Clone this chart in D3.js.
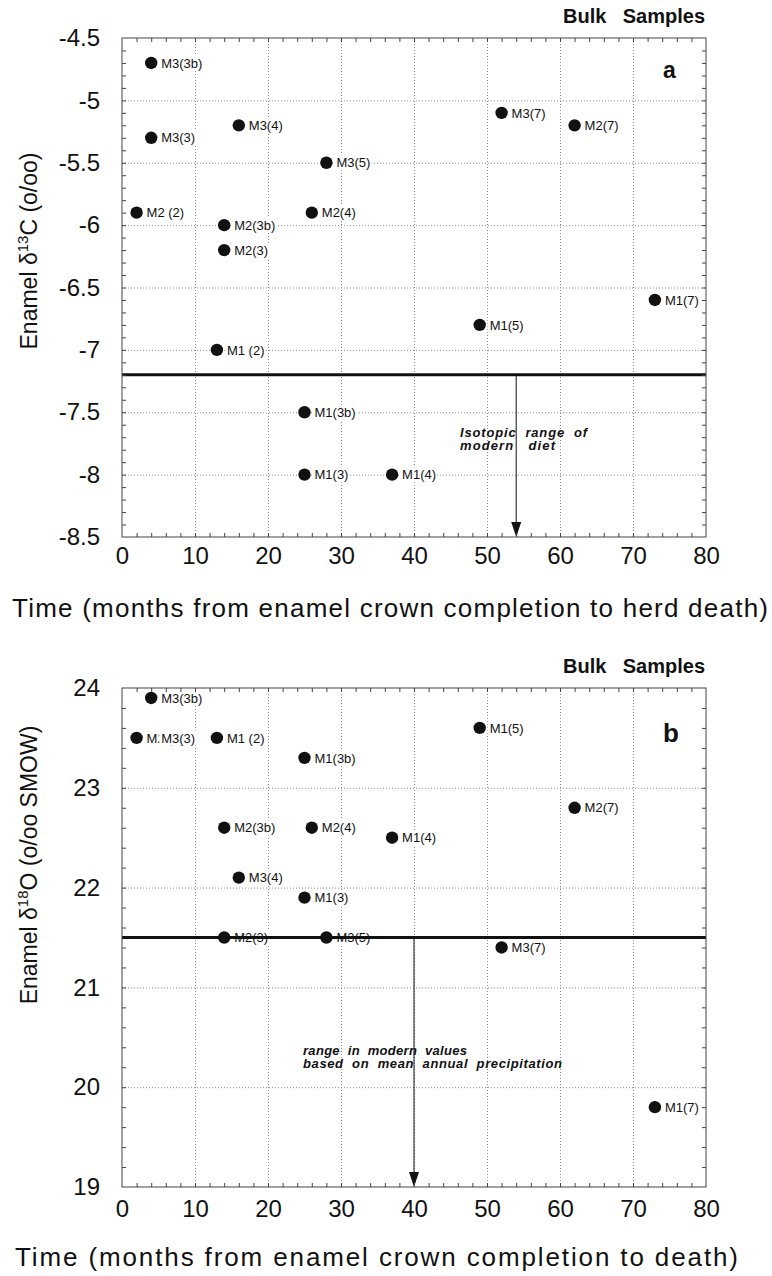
<!DOCTYPE html>
<html>
<head>
<meta charset="utf-8">
<script src="https://cdn.jsdelivr.net/npm/d3@7"></script>
<style>
  body { margin: 0; background: #fff; }
  text { font-family: "Liberation Sans", Arial, Helvetica, sans-serif; fill: #111; }
  .grid line { stroke: #8a8a8a; stroke-dasharray: 1,2; }
  .minor line { stroke: #444; }
  .ticklab text { font-size: 24px; }
  .note { white-space: pre; }
</style>
</head>
<body>
<svg width="772" height="1276"></svg>
<script>
// shared x axis
const monthTicks = [0, 10, 20, 30, 40, 50, 60, 70, 80];

// panel a: enamel d13C
const carbonTicks = [-8.5, -8, -7.5, -7, -6.5, -6, -5.5, -5, -4.5];
const carbonLabels = ["M3(3b)", "M3(3)", "M3(4)", "M3(5)", "M2 (2)", "M2(4)", "M2(3b)", "M2(3)",
  "M1 (2)", "M3(7)", "M2(7)", "M1(7)", "M1(5)", "M1(3b)", "M1(3)", "M1(4)"];
const carbonMonths = [4, 4, 16, 28, 2, 26, 14, 14, 13, 52, 62, 73, 49, 25, 25, 37];
const carbonValues = [-4.7, -5.3, -5.2, -5.5, -5.9, -5.9, -6.0, -6.2, -7.0, -5.1, -5.2, -6.6, -6.8, -7.5, -8.0, -8.0];
const carbonModern = -7.2;   // thick reference line
const carbonArrowMonth = 54;

// panel b: enamel d18O
const oxygenTicks = [19, 20, 21, 22, 23, 24];
const oxygenLabels = ["M3(3b)", "M2 (2)", "M3(3)", "M1 (2)", "M1(3b)", "M2(3b)", "M2(4)", "M1(4)",
  "M3(4)", "M1(3)", "M2(3)", "M3(5)", "M1(5)", "M2(7)", "M3(7)", "M1(7)"];
const oxygenMonths = [4, 2, 4, 13, 25, 14, 26, 37, 16, 25, 14, 28, 49, 62, 52, 73];
const oxygenValues = [23.9, 23.5, 23.5, 23.5, 23.3, 22.6, 22.6, 22.5, 22.1, 21.9, 21.5, 21.5, 23.6, 22.8, 21.4, 19.8];
const oxygenModern = 21.5;
const oxygenArrowMonth = 40;

const svg = d3.select("svg");
const left = 122, right = 706;
const x = d3.scaleLinear().domain([0, 80]).range([left, right]);

function drawPanel(p) {
  const y = p.y;
  const bottom = y.range()[0], top = y.range()[1];
  const g = svg.append("g");

  // dotted grid at major ticks
  g.append("g").attr("class", "grid").attr("transform", `translate(0,${bottom})`)
    .call(d3.axisBottom(x).tickValues(monthTicks.slice(1, -1)).tickSize(-(bottom - top)).tickFormat(""))
    .call(a => a.select(".domain").remove());
  g.append("g").attr("class", "grid").attr("transform", `translate(${left},0)`)
    .call(d3.axisLeft(y).tickValues(p.ticks.slice(1, -1)).tickSize(-(right - left)).tickFormat(""))
    .call(a => a.select(".domain").remove());

  // points
  g.append("g").selectAll("circle").data(p.months).join("circle")
    .attr("cx", d => x(d))
    .attr("cy", (d, i) => y(p.values[i]))
    .attr("r", 6.2)
    .attr("fill", "#111");

  // labels with white boxes behind (they hide grid and neighbours, as in the source)
  g.append("g").selectAll("g").data(p.labels).join("g")
    .attr("transform", (d, i) => `translate(${x(p.months[i]) + 10},${y(p.values[i])})`)
    .each(function(d) {
      const s = d3.select(this);
      const t = s.append("text").attr("dy", "0.36em").attr("font-size", 13).text(d);
      const b = t.node().getBBox();
      s.insert("rect", "text").attr("x", b.x - 2).attr("y", b.y).attr("width", b.width + 3)
        .attr("height", b.height).attr("fill", "#fff");
    });

  // modern reference line + arrow
  g.append("line").attr("x1", left).attr("x2", right)
    .attr("y1", y(p.modern)).attr("y2", y(p.modern))
    .attr("stroke", "#111").attr("stroke-width", 3);
  const ax = x(p.arrowMonth);
  g.append("line").attr("x1", ax).attr("x2", ax).attr("y1", y(p.modern)).attr("y2", bottom - 12)
    .attr("stroke", "#111").attr("stroke-width", 1);
  g.append("path").attr("d", `M${ax - 5},${bottom - 15}L${ax + 5},${bottom - 15}L${ax},${bottom}Z`)
    .attr("fill", "#111");

  // note
  p.note.forEach((line, i) => {
    g.append("text").attr("class", "note").attr("x", p.noteX).attr("y", p.noteY + i * p.noteGap)
      .attr("font-size", 13).attr("font-weight", "bold").attr("font-style", "italic")
      .attr("textLength", p.noteLen[i]).attr("lengthAdjust", "spacing").text(line);
  });

  // minor ticks on all four sides
  const minorX = d3.range(2, 80, 2);
  g.append("g").attr("class", "minor").attr("transform", `translate(0,${bottom})`)
    .call(d3.axisBottom(x).tickValues(minorX).tickSize(-4).tickFormat(""))
    .call(a => a.select(".domain").remove());
  g.append("g").attr("class", "minor").attr("transform", `translate(0,${top})`)
    .call(d3.axisTop(x).tickValues(minorX).tickSize(-4).tickFormat(""))
    .call(a => a.select(".domain").remove());
  g.append("g").attr("class", "minor").attr("transform", `translate(${left},0)`)
    .call(d3.axisLeft(y).tickValues(p.minorY).tickSize(-4).tickFormat(""))
    .call(a => a.select(".domain").remove());
  g.append("g").attr("class", "minor").attr("transform", `translate(${right},0)`)
    .call(d3.axisRight(y).tickValues(p.minorY).tickSize(-4).tickFormat(""))
    .call(a => a.select(".domain").remove());

  g.append("rect").attr("x", left).attr("y", top).attr("width", right - left).attr("height", bottom - top)
    .attr("fill", "none").attr("stroke", "#444").attr("stroke-width", 1);

  // tick labels
  g.append("g").attr("class", "ticklab").attr("transform", `translate(0,${bottom})`)
    .call(d3.axisBottom(x).tickValues(monthTicks).tickSize(0).tickPadding(p.xPad).tickFormat(d => String(d)))
    .call(a => a.select(".domain").remove());
  g.append("g").attr("class", "ticklab").attr("transform", `translate(${left},0)`)
    .call(d3.axisLeft(y).tickValues(p.ticks).tickSize(0).tickPadding(22).tickFormat(d => String(d)))
    .call(a => a.select(".domain").remove());
  g.selectAll(".ticklab text").attr("fill", "#111").style("font-family", "'Liberation Sans', Arial, sans-serif");

  // titles
  const yt = g.append("text").attr("transform", `translate(37,${p.yTitleY}) rotate(-90)`)
    .attr("text-anchor", "middle").attr("font-size", 23);
  yt.append("tspan").text("Enamel δ");
  yt.append("tspan").attr("font-size", 15).attr("dy", -9).text(p.iso);
  yt.append("tspan").attr("dy", 9).text(p.yTitleRest);

  g.append("text").attr("x", p.xTitleX).attr("y", p.xTitleY).attr("font-size", 26)
    .attr("textLength", p.xTitleLen).attr("lengthAdjust", "spacing").text(p.xTitle);

  g.append("text").attr("x", 563).attr("y", p.bulkY).attr("font-size", 20).attr("font-weight", "bold")
    .text("Bulk");
  g.append("text").attr("x", 705).attr("y", p.bulkY).attr("font-size", 20).attr("font-weight", "bold")
    .attr("text-anchor", "end").text("Samples");
  g.append("text").attr("x", 663).attr("y", p.letterY).attr("font-size", p.letterSize)
    .attr("font-weight", "bold").text(p.letter);
}

drawPanel({
  y: d3.scaleLinear().domain([-8.5, -4.5]).range([537, 38]),
  ticks: carbonTicks,
  minorY: d3.range(-8.4, -4.55, 0.1),
  labels: carbonLabels, months: carbonMonths, values: carbonValues,
  modern: carbonModern, arrowMonth: carbonArrowMonth,
  note: ["Isotopic  range  of", "modern   diet"], noteLen: [127, 95], noteX: 460, noteY: 437, noteGap: 13,
  xPad: 10,
  iso: "13", yTitleRest: "C (o/oo)", yTitleY: 251,
  xTitle: "Time (months from enamel crown completion to herd death)", xTitleX: 12, xTitleY: 617, xTitleLen: 756,
  bulkY: 23, letter: "a", letterY: 78, letterSize: 23
});

drawPanel({
  y: d3.scaleLinear().domain([19, 24]).range([1187, 688]),
  ticks: oxygenTicks,
  minorY: d3.range(19.2, 23.95, 0.2),
  labels: oxygenLabels, months: oxygenMonths, values: oxygenValues,
  modern: oxygenModern, arrowMonth: oxygenArrowMonth,
  note: ["range  in  modern  values", "based  on  mean  annual  precipitation"], noteLen: [164, 259],
  noteX: 303, noteY: 1055, noteGap: 12.5,
  xPad: 13,
  iso: "18", yTitleRest: "O (o/oo SMOW)", yTitleY: 865,
  xTitle: "Time (months from enamel crown completion to death)", xTitleX: 15, xTitleY: 1266, xTitleLen: 723,
  bulkY: 673, letter: "b", letterY: 742, letterSize: 26
});
</script>
</body>
</html>
